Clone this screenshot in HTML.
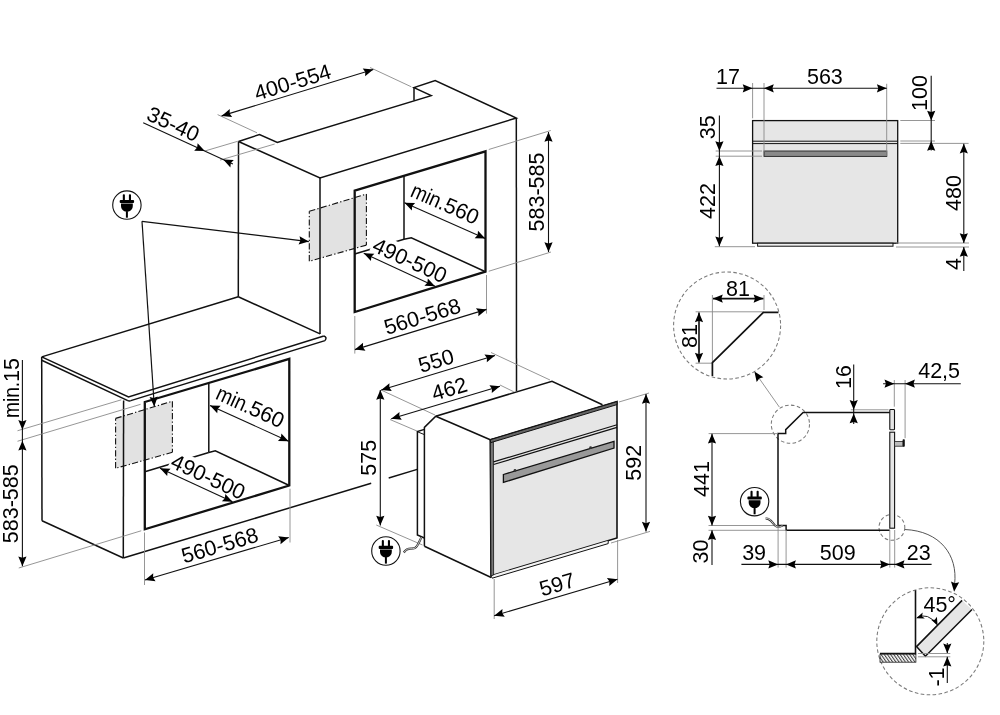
<!DOCTYPE html>
<html><head><meta charset="utf-8"><title>Oven installation drawing</title>
<style>html,body{margin:0;padding:0;background:#fff}svg{display:block;will-change:transform}text{font-family:"Liberation Sans",sans-serif}</style>
</head><body>
<svg width="1000" height="715" viewBox="0 0 1000 715">
<rect width="1000" height="715" fill="#fff"/>
<path d="M309.30,211.30 L366.40,194.10 L366.40,245.10 L309.30,261.30 Z" fill="#e2e2e2" stroke="none" stroke-width="0" stroke-linejoin="miter" />
<line x1="309.30" y1="211.30" x2="366.40" y2="194.10" stroke="#111" stroke-width="1.1" stroke-dasharray="6.2 2.2 1.3 2.2"/>
<line x1="366.40" y1="194.10" x2="366.40" y2="245.10" stroke="#111" stroke-width="1.1" stroke-dasharray="6.2 2.2 1.3 2.2"/>
<line x1="366.40" y1="245.10" x2="309.30" y2="261.30" stroke="#111" stroke-width="1.1" stroke-dasharray="6.2 2.2 1.3 2.2"/>
<line x1="309.30" y1="261.30" x2="309.30" y2="211.30" stroke="#111" stroke-width="1.1" stroke-dasharray="6.2 2.2 1.3 2.2"/>
<path d="M115.60,418.40 L172.40,401.20 L172.40,452.30 L115.60,468.30 Z" fill="#e2e2e2" stroke="none" stroke-width="0" stroke-linejoin="miter" />
<line x1="115.60" y1="418.40" x2="172.40" y2="401.20" stroke="#111" stroke-width="1.1" stroke-dasharray="6.2 2.2 1.3 2.2"/>
<line x1="172.40" y1="401.20" x2="172.40" y2="452.30" stroke="#111" stroke-width="1.1" stroke-dasharray="6.2 2.2 1.3 2.2"/>
<line x1="172.40" y1="452.30" x2="115.60" y2="468.30" stroke="#111" stroke-width="1.1" stroke-dasharray="6.2 2.2 1.3 2.2"/>
<line x1="115.60" y1="468.30" x2="115.60" y2="418.40" stroke="#111" stroke-width="1.1" stroke-dasharray="6.2 2.2 1.3 2.2"/>
<line x1="404.00" y1="175.40" x2="404.00" y2="239.30" stroke="#111" stroke-width="1.5" />
<line x1="404.00" y1="239.30" x2="354.70" y2="254.00" stroke="#111" stroke-width="1.5" />
<path d="M404.00,239.30 L411.30,237.80 L485.50,271.70" fill="none" stroke="#111" stroke-width="1.5" stroke-linejoin="miter" />
<line x1="208.80" y1="382.90" x2="208.80" y2="452.50" stroke="#111" stroke-width="1.5" />
<line x1="208.80" y1="452.50" x2="144.80" y2="471.80" stroke="#111" stroke-width="1.5" />
<path d="M208.80,452.50 L215.30,450.80 L289.30,485.50" fill="none" stroke="#111" stroke-width="1.5" stroke-linejoin="miter" />
<rect transform="translate(409.97,260.19) rotate(24.85)" x="-40.95" y="-11.52" width="81.91" height="19.55" fill="#fff"/>
<rect transform="translate(208.31,476.55) rotate(24.80)" x="-40.95" y="-11.52" width="81.91" height="19.55" fill="#fff"/>
<path d="M238.50,141.50 L259.50,134.50 L277.30,142.50 L431.20,95.60 L414.00,87.60 L435.20,80.60 L516.30,118.00 L320.00,178.00 L238.50,141.50" fill="none" stroke="#111" stroke-width="1.5" stroke-linejoin="miter" />
<line x1="414.00" y1="87.60" x2="414.00" y2="100.40" stroke="#111" stroke-width="1.5" />
<line x1="516.30" y1="118.00" x2="516.50" y2="391.00" stroke="#111" stroke-width="1.5" />
<line x1="320.00" y1="178.00" x2="320.00" y2="334.00" stroke="#111" stroke-width="1.5" />
<line x1="238.50" y1="141.50" x2="238.30" y2="296.80" stroke="#111" stroke-width="1.5" />
<line x1="238.30" y1="296.80" x2="320.10" y2="333.90" stroke="#111" stroke-width="1.5" />
<line x1="238.30" y1="296.80" x2="41.70" y2="356.90" stroke="#111" stroke-width="1.5" />
<path d="M354.70,190.60 L485.50,151.40 L485.50,271.70 L354.70,312.00 Z" fill="none" stroke="#111" stroke-width="2.3" stroke-linejoin="miter" />
<path d="M41.70,356.90 L128.50,397.00 L323.80,336.00" fill="none" stroke="#111" stroke-width="1.5" stroke-linejoin="miter" />
<path d="M323.8,336.0 Q327.5,337.2 325.0,340.6" fill="none" stroke="#111" stroke-width="1.5"/>
<path d="M41.70,360.30 L127.80,400.60" fill="none" stroke="#111" stroke-width="1.5" stroke-linejoin="miter" />
<path d="M127.8,400.6 Q129.3,401.3 130.8,400.6" fill="none" stroke="#111" stroke-width="1.5"/>
<path d="M130.80,400.60 L325.00,340.60" fill="none" stroke="#111" stroke-width="1.5" stroke-linejoin="miter" />
<line x1="41.70" y1="356.90" x2="42.00" y2="520.80" stroke="#111" stroke-width="1.5" />
<line x1="42.00" y1="520.80" x2="123.30" y2="558.00" stroke="#111" stroke-width="1.5" />
<line x1="123.60" y1="400.50" x2="123.30" y2="558.00" stroke="#111" stroke-width="1.5" />
<line x1="123.30" y1="558.00" x2="371.20" y2="483.30" stroke="#111" stroke-width="1.5" />
<line x1="388.70" y1="478.00" x2="417.20" y2="469.40" stroke="#111" stroke-width="1.5" />
<path d="M144.80,402.00 L289.30,358.90 L289.30,485.50 L144.80,529.30 Z" fill="none" stroke="#111" stroke-width="2.3" stroke-linejoin="miter" />
<line x1="142.00" y1="221.30" x2="308.80" y2="241.60" stroke="#111" stroke-width="1.2" />
<polygon points="308.80,241.60 298.58,244.48 300.46,240.58 299.57,236.34" fill="#000"/>
<line x1="142.00" y1="221.30" x2="154.30" y2="406.50" stroke="#111" stroke-width="1.2" />
<polygon points="154.30,406.50 149.56,396.99 153.74,398.12 157.74,396.45" fill="#000"/>
<line x1="217.60" y1="114.60" x2="257.00" y2="132.80" stroke="#8a8a8a" stroke-width="0.9" />
<line x1="370.00" y1="67.50" x2="411.30" y2="86.80" stroke="#8a8a8a" stroke-width="0.9" />
<line x1="221.60" y1="115.90" x2="373.30" y2="69.50" stroke="#111" stroke-width="1.1" />
<polygon points="373.30,69.50 365.13,76.29 365.27,71.96 362.73,68.45" fill="#000"/>
<polygon points="221.60,115.90 229.77,109.11 229.63,113.44 232.17,116.95" fill="#000"/>
<g transform="translate(292.62,82.02) rotate(-17.01)">
<text transform="translate(-39.45,7.52) scale(1.000,1)" font-size="21.5" fill="#000">400-554</text>
</g>
<line x1="204.80" y1="151.00" x2="237.70" y2="141.30" stroke="#8a8a8a" stroke-width="0.9" />
<line x1="220.00" y1="160.10" x2="274.70" y2="144.00" stroke="#8a8a8a" stroke-width="0.9" />
<line x1="143.20" y1="122.70" x2="232.90" y2="164.10" stroke="#111" stroke-width="1.1" />
<polygon points="204.80,151.00 194.18,150.63 197.17,147.49 197.61,143.18" fill="#000"/>
<polygon points="223.20,159.60 233.82,159.97 230.83,163.11 230.39,167.42" fill="#000"/>
<g transform="translate(173.40,123.90) rotate(24.70)">
<text transform="translate(-27.50,7.52) scale(1.000,1)" font-size="21.5" fill="#000">35-40</text>
</g>
<line x1="488.75" y1="149.50" x2="550.75" y2="130.50" stroke="#8a8a8a" stroke-width="0.9" />
<line x1="488.75" y1="271.25" x2="551.00" y2="252.00" stroke="#8a8a8a" stroke-width="0.9" />
<line x1="548.50" y1="252.00" x2="548.50" y2="132.00" stroke="#111" stroke-width="1.1" />
<polygon points="548.50,132.00 552.60,141.80 548.50,140.40 544.40,141.80" fill="#000"/>
<polygon points="548.50,252.00 544.40,242.20 548.50,243.60 552.60,242.20" fill="#000"/>
<g transform="translate(536.27,192.00) rotate(-90.00)">
<text transform="translate(-39.45,7.52) scale(1.000,1)" font-size="21.5" fill="#000">583-585</text>
</g>
<line x1="404.50" y1="202.80" x2="485.30" y2="238.50" stroke="#111" stroke-width="1.1" />
<polygon points="485.30,238.50 474.68,238.29 477.62,235.11 477.99,230.79" fill="#000"/>
<polygon points="404.50,202.80 415.12,203.01 412.18,206.19 411.81,210.51" fill="#000"/>
<g transform="translate(445.13,203.56) rotate(23.84)">
<text transform="translate(-36.01,7.52) scale(0.890,1)" font-size="21.5" fill="#000">min.</text>
<text transform="translate(0.14,7.52) scale(1.000,1)" font-size="21.5" fill="#000">560</text>
</g>
<line x1="363.75" y1="253.25" x2="435.00" y2="286.25" stroke="#111" stroke-width="1.1" />
<polygon points="435.00,286.25 424.38,285.85 427.38,282.72 427.83,278.41" fill="#000"/>
<polygon points="363.75,253.25 374.37,253.65 371.37,256.78 370.92,261.09" fill="#000"/>
<g transform="translate(409.97,260.19) rotate(24.85)">
<text transform="translate(-39.45,7.52) scale(1.000,1)" font-size="21.5" fill="#000">490-500</text>
</g>
<line x1="354.80" y1="316.00" x2="354.80" y2="353.60" stroke="#8a8a8a" stroke-width="0.9" />
<line x1="486.50" y1="275.00" x2="486.50" y2="313.60" stroke="#8a8a8a" stroke-width="0.9" />
<line x1="354.90" y1="349.60" x2="486.50" y2="309.40" stroke="#111" stroke-width="1.1" />
<polygon points="486.50,309.40 478.33,316.18 478.47,311.85 475.93,308.34" fill="#000"/>
<polygon points="354.90,349.60 363.07,342.82 362.93,347.15 365.47,350.66" fill="#000"/>
<g transform="translate(422.20,316.26) rotate(-16.99)">
<text transform="translate(-39.45,7.52) scale(1.000,1)" font-size="21.5" fill="#000">560-568</text>
</g>
<line x1="17.50" y1="430.75" x2="121.30" y2="399.80" stroke="#8a8a8a" stroke-width="0.9" />
<line x1="17.50" y1="441.25" x2="140.60" y2="404.30" stroke="#8a8a8a" stroke-width="0.9" />
<line x1="18.75" y1="568.00" x2="141.25" y2="530.75" stroke="#8a8a8a" stroke-width="0.9" />
<line x1="22.40" y1="360.00" x2="22.40" y2="566.25" stroke="#111" stroke-width="1.1" />
<polygon points="22.40,429.80 18.30,420.00 22.40,421.40 26.50,420.00" fill="#000"/>
<polygon points="22.40,440.80 26.50,450.60 22.40,449.20 18.30,450.60" fill="#000"/>
<polygon points="22.40,566.25 18.30,556.45 22.40,557.85 26.50,556.45" fill="#000"/>
<g transform="translate(11.00,388.00) rotate(-90.00)">
<text transform="translate(-30.03,7.52) scale(0.890,1)" font-size="21.5" fill="#000">min.</text>
<text transform="translate(6.12,7.52) scale(1.000,1)" font-size="21.5" fill="#000">15</text>
</g>
<g transform="translate(10.50,503.75) rotate(-90.00)">
<text transform="translate(-39.45,7.52) scale(1.000,1)" font-size="21.5" fill="#000">583-585</text>
</g>
<line x1="210.00" y1="405.50" x2="288.60" y2="441.20" stroke="#111" stroke-width="1.1" />
<polygon points="288.60,441.20 277.98,440.88 280.95,437.73 281.37,433.41" fill="#000"/>
<polygon points="210.00,405.50 220.62,405.82 217.65,408.97 217.23,413.29" fill="#000"/>
<g transform="translate(250.43,406.59) rotate(24.43)">
<text transform="translate(-36.01,7.52) scale(0.890,1)" font-size="21.5" fill="#000">min.</text>
<text transform="translate(0.14,7.52) scale(1.000,1)" font-size="21.5" fill="#000">560</text>
</g>
<line x1="160.00" y1="468.25" x2="232.50" y2="501.75" stroke="#111" stroke-width="1.1" />
<polygon points="232.50,501.75 221.88,501.36 224.87,498.23 225.32,493.92" fill="#000"/>
<polygon points="160.00,468.25 170.62,468.64 167.63,471.77 167.18,476.08" fill="#000"/>
<g transform="translate(208.31,476.55) rotate(24.80)">
<text transform="translate(-39.45,7.52) scale(1.000,1)" font-size="21.5" fill="#000">490-500</text>
</g>
<line x1="144.50" y1="532.50" x2="144.50" y2="585.00" stroke="#8a8a8a" stroke-width="0.9" />
<line x1="290.00" y1="488.75" x2="290.00" y2="542.50" stroke="#8a8a8a" stroke-width="0.9" />
<line x1="145.00" y1="580.00" x2="288.75" y2="537.50" stroke="#111" stroke-width="1.1" />
<polygon points="288.75,537.50 280.51,544.21 280.69,539.88 278.19,536.35" fill="#000"/>
<polygon points="145.00,580.00 153.24,573.29 153.06,577.62 155.56,581.15" fill="#000"/>
<g transform="translate(219.64,545.18) rotate(-16.47)">
<text transform="translate(-39.45,7.52) scale(1.000,1)" font-size="21.5" fill="#000">560-568</text>
</g>
<line x1="381.00" y1="390.00" x2="435.00" y2="415.00" stroke="#8a8a8a" stroke-width="0.9" />
<line x1="491.00" y1="352.50" x2="550.00" y2="380.00" stroke="#8a8a8a" stroke-width="0.9" />
<line x1="381.25" y1="390.00" x2="495.00" y2="355.50" stroke="#111" stroke-width="1.1" />
<polygon points="495.00,355.50 486.81,362.27 486.96,357.94 484.43,354.42" fill="#000"/>
<polygon points="381.25,390.00 389.44,383.23 389.29,387.56 391.82,391.08" fill="#000"/>
<g transform="translate(436.01,360.62) rotate(-16.87)">
<text transform="translate(-17.94,7.52) scale(1.000,1)" font-size="21.5" fill="#000">550</text>
</g>
<line x1="390.00" y1="419.50" x2="417.50" y2="431.25" stroke="#8a8a8a" stroke-width="0.9" />
<line x1="500.00" y1="385.00" x2="513.75" y2="391.75" stroke="#8a8a8a" stroke-width="0.9" />
<line x1="391.25" y1="418.75" x2="500.00" y2="386.25" stroke="#111" stroke-width="1.1" />
<polygon points="500.00,386.25 491.78,392.98 491.95,388.66 489.44,385.13" fill="#000"/>
<polygon points="391.25,418.75 399.47,412.02 399.30,416.34 401.81,419.87" fill="#000"/>
<g transform="translate(449.31,388.64) rotate(-16.64)">
<text transform="translate(-17.94,7.52) scale(1.000,1)" font-size="21.5" fill="#000">462</text>
</g>
<line x1="376.25" y1="525.00" x2="422.50" y2="545.00" stroke="#8a8a8a" stroke-width="0.9" />
<line x1="380.30" y1="525.50" x2="380.30" y2="390.00" stroke="#111" stroke-width="1.1" />
<polygon points="380.30,390.00 384.40,399.80 380.30,398.40 376.20,399.80" fill="#000"/>
<polygon points="380.30,525.50 376.20,515.70 380.30,517.10 384.40,515.70" fill="#000"/>
<g transform="translate(368.07,457.75) rotate(-90.00)">
<text transform="translate(-17.94,7.52) scale(1.000,1)" font-size="21.5" fill="#000">575</text>
</g>
<line x1="494.20" y1="579.00" x2="494.20" y2="619.00" stroke="#8a8a8a" stroke-width="0.9" />
<line x1="617.60" y1="540.00" x2="617.60" y2="583.00" stroke="#8a8a8a" stroke-width="0.9" />
<line x1="494.20" y1="615.70" x2="617.50" y2="579.20" stroke="#111" stroke-width="1.1" />
<polygon points="617.50,579.20 609.27,585.91 609.45,581.58 606.94,578.05" fill="#000"/>
<polygon points="494.20,615.70 502.43,608.99 502.25,613.32 504.76,616.85" fill="#000"/>
<g transform="translate(557.17,584.31) rotate(-16.49)">
<text transform="translate(-17.94,7.52) scale(1.000,1)" font-size="21.5" fill="#000">597</text>
</g>
<line x1="619.00" y1="402.00" x2="649.00" y2="393.00" stroke="#8a8a8a" stroke-width="0.9" />
<line x1="611.00" y1="543.00" x2="650.00" y2="531.40" stroke="#8a8a8a" stroke-width="0.9" />
<line x1="646.00" y1="531.60" x2="646.00" y2="394.00" stroke="#111" stroke-width="1.1" />
<polygon points="646.00,394.00 650.10,403.80 646.00,402.40 641.90,403.80" fill="#000"/>
<polygon points="646.00,531.60 641.90,521.80 646.00,523.20 650.10,521.80" fill="#000"/>
<g transform="translate(633.77,462.80) rotate(-90.00)">
<text transform="translate(-17.94,7.52) scale(1.000,1)" font-size="21.5" fill="#000">592</text>
</g>
<path d="M424.40,546.25 L424.40,427.40 L435.80,416.20 L552.00,381.25 L602.50,404.70" fill="none" stroke="#111" stroke-width="1.5" stroke-linejoin="miter" />
<line x1="435.80" y1="416.20" x2="490.30" y2="439.70" stroke="#111" stroke-width="1.5" />
<line x1="424.40" y1="546.25" x2="491.20" y2="577.50" stroke="#111" stroke-width="1.5" />
<path d="M424.40,429.40 L417.40,431.60 L417.40,535.00 L424.40,538.00" fill="none" stroke="#111" stroke-width="1.5" stroke-linejoin="miter" />
<line x1="418.00" y1="432.00" x2="424.40" y2="434.60" stroke="#111" stroke-width="1.0" />
<path d="M403.8,552.5 C409,545 413,552 417,546 C419,543 420,540 421.3,537.5" fill="none" stroke="#333" stroke-width="2.2"/>
<path d="M403.8,552.5 C409,545 413,552 417,546 C419,543 420,540 421.3,537.5" fill="none" stroke="#eee" stroke-width="0.8"/>
<path d="M490.30,439.70 L617.00,401.60 L617.00,538.00 L491.00,575.80 Z" fill="#e6e6e6" stroke="#111" stroke-width="1.6" stroke-linejoin="miter" />
<path d="M491.00,575.80 L492.20,578.20 L608.20,543.60 L608.20,540.70" fill="#f4f4f4" stroke="#111" stroke-width="1.0" stroke-linejoin="miter" />
<path d="M490.30,439.70 L493.40,438.80 L493.60,575.00 L491.00,575.80 Z" fill="#777" stroke="#111" stroke-width="0.8" stroke-linejoin="miter" />
<path d="M490.30,439.70 L617.00,401.60 L617.00,404.60 L490.60,442.70 Z" fill="#666" stroke="#111" stroke-width="1.0" stroke-linejoin="miter" />
<line x1="493.50" y1="461.90" x2="617.00" y2="424.80" stroke="#111" stroke-width="1.2" />
<line x1="493.50" y1="464.50" x2="617.00" y2="427.40" stroke="#111" stroke-width="1.2" />
<path d="M503.40,474.50 L614.00,441.40 L614.00,448.00 L503.40,482.40 Z" fill="#999" stroke="#111" stroke-width="1.3" stroke-linejoin="miter" />
<circle cx="515" cy="470.4" r="1.4" fill="#333"/><circle cx="590.6" cy="447.7" r="1.4" fill="#333"/>
<g transform="translate(126.9,205.1)"><circle r="14.2" fill="#fff" stroke="#111" stroke-width="1.1"/><rect x="-4.1" y="-10.9" width="2.1" height="6.5" rx="0.9" fill="#000"/><rect x="2.0" y="-10.9" width="2.1" height="6.5" rx="0.9" fill="#000"/><rect x="-7.2" y="-5.2" width="14.4" height="3.1" rx="1" fill="#000"/><path d="M-5.9,-1.5 H5.9 V0.8 Q5.9,4.6 2.0,6.3 H-2.0 Q-5.9,4.6 -5.9,0.8 Z" fill="#000"/><rect x="-1.0" y="6" width="2.0" height="6.6" fill="#000"/></g>
<g transform="translate(385.9,551)"><circle r="14.2" fill="#fff" stroke="#111" stroke-width="1.1"/><rect x="-4.1" y="-10.9" width="2.1" height="6.5" rx="0.9" fill="#000"/><rect x="2.0" y="-10.9" width="2.1" height="6.5" rx="0.9" fill="#000"/><rect x="-7.2" y="-5.2" width="14.4" height="3.1" rx="1" fill="#000"/><path d="M-5.9,-1.5 H5.9 V0.8 Q5.9,4.6 2.0,6.3 H-2.0 Q-5.9,4.6 -5.9,0.8 Z" fill="#000"/><rect x="-1.0" y="6" width="2.0" height="6.6" fill="#000"/></g>
<g transform="translate(754.6,501.7)"><circle r="14.2" fill="#fff" stroke="#111" stroke-width="1.1"/><rect x="-4.1" y="-10.9" width="2.1" height="6.5" rx="0.9" fill="#000"/><rect x="2.0" y="-10.9" width="2.1" height="6.5" rx="0.9" fill="#000"/><rect x="-7.2" y="-5.2" width="14.4" height="3.1" rx="1" fill="#000"/><path d="M-5.9,-1.5 H5.9 V0.8 Q5.9,4.6 2.0,6.3 H-2.0 Q-5.9,4.6 -5.9,0.8 Z" fill="#000"/><rect x="-1.0" y="6" width="2.0" height="6.6" fill="#000"/></g>
<rect x="752.6" y="120.6" width="145.1" height="122.6" fill="#e6e6e6" stroke="#111" stroke-width="1.3"/>
<line x1="752.60" y1="141.20" x2="897.70" y2="141.20" stroke="#111" stroke-width="1.0" />
<line x1="752.60" y1="143.60" x2="897.70" y2="143.60" stroke="#111" stroke-width="1.0" />
<rect x="764" y="151" width="122.8" height="5.4" fill="#8a8a8a" stroke="#222" stroke-width="0.9"/>
<rect x="757.6" y="243.2" width="135.4" height="3" fill="#f0f0f0" stroke="#111" stroke-width="1"/>
<line x1="752.60" y1="83.00" x2="752.60" y2="118.30" stroke="#8a8a8a" stroke-width="0.9" />
<line x1="764.00" y1="83.00" x2="764.00" y2="152.00" stroke="#8a8a8a" stroke-width="0.9" />
<line x1="886.70" y1="83.80" x2="886.70" y2="156.00" stroke="#8a8a8a" stroke-width="0.9" />
<line x1="716.50" y1="88.30" x2="886.70" y2="88.30" stroke="#111" stroke-width="1.1" />
<polygon points="752.50,88.30 742.70,92.40 744.10,88.30 742.70,84.20" fill="#000"/>
<polygon points="764.00,88.30 773.80,84.20 772.40,88.30 773.80,92.40" fill="#000"/>
<polygon points="886.70,88.30 876.90,92.40 878.30,88.30 876.90,84.20" fill="#000"/>
<g transform="translate(728.00,76.27) rotate(0.00)">
<text transform="translate(-11.96,7.52) scale(1.000,1)" font-size="21.5" fill="#000">17</text>
</g>
<g transform="translate(824.90,76.27) rotate(0.00)">
<text transform="translate(-17.94,7.52) scale(1.000,1)" font-size="21.5" fill="#000">563</text>
</g>
<line x1="900.30" y1="120.50" x2="935.00" y2="120.50" stroke="#8a8a8a" stroke-width="0.9" />
<line x1="900.30" y1="141.00" x2="935.00" y2="141.00" stroke="#8a8a8a" stroke-width="0.9" />
<line x1="900.30" y1="143.40" x2="968.60" y2="143.40" stroke="#8a8a8a" stroke-width="0.9" />
<line x1="931.20" y1="75.70" x2="931.20" y2="150.50" stroke="#111" stroke-width="1.1" />
<polygon points="931.20,120.50 927.10,110.70 931.20,112.10 935.30,110.70" fill="#000"/>
<polygon points="931.20,141.00 935.30,150.80 931.20,149.40 927.10,150.80" fill="#000"/>
<g transform="translate(919.20,93.00) rotate(-90.00)">
<text transform="translate(-17.94,7.52) scale(1.000,1)" font-size="21.5" fill="#000">100</text>
</g>
<line x1="896.00" y1="243.00" x2="969.00" y2="243.00" stroke="#8a8a8a" stroke-width="0.9" />
<line x1="896.00" y1="247.00" x2="969.00" y2="247.00" stroke="#8a8a8a" stroke-width="0.9" />
<line x1="963.80" y1="243.00" x2="963.80" y2="143.70" stroke="#111" stroke-width="1.1" />
<polygon points="963.80,143.70 967.90,153.50 963.80,152.10 959.70,153.50" fill="#000"/>
<polygon points="963.80,243.00 959.70,233.20 963.80,234.60 967.90,233.20" fill="#000"/>
<g transform="translate(953.00,193.00) rotate(-90.00)">
<text transform="translate(-17.94,7.52) scale(1.000,1)" font-size="21.5" fill="#000">480</text>
</g>
<line x1="963.80" y1="247.00" x2="963.80" y2="271.00" stroke="#111" stroke-width="1.1" />
<polygon points="963.80,247.00 967.90,256.80 963.80,255.40 959.70,256.80" fill="#000"/>
<g transform="translate(953.50,264.00) rotate(-90.00)">
<text transform="translate(-5.98,7.52) scale(1.000,1)" font-size="21.5" fill="#000">4</text>
</g>
<line x1="715.70" y1="151.00" x2="762.00" y2="151.00" stroke="#8a8a8a" stroke-width="0.9" />
<line x1="715.70" y1="156.20" x2="762.00" y2="156.20" stroke="#8a8a8a" stroke-width="0.9" />
<line x1="714.80" y1="246.70" x2="755.00" y2="246.70" stroke="#8a8a8a" stroke-width="0.9" />
<line x1="719.40" y1="115.60" x2="719.40" y2="246.20" stroke="#111" stroke-width="1.1" />
<polygon points="719.40,151.00 715.30,141.20 719.40,142.60 723.50,141.20" fill="#000"/>
<polygon points="719.40,156.30 723.50,166.10 719.40,164.70 715.30,166.10" fill="#000"/>
<polygon points="719.40,246.20 715.30,236.40 719.40,237.80 723.50,236.40" fill="#000"/>
<g transform="translate(707.70,127.20) rotate(-90.00)">
<text transform="translate(-11.96,7.52) scale(1.000,1)" font-size="21.5" fill="#000">35</text>
</g>
<g transform="translate(707.70,201.00) rotate(-90.00)">
<text transform="translate(-17.94,7.52) scale(1.000,1)" font-size="21.5" fill="#000">422</text>
</g>
<circle cx="727.1" cy="325.5" r="53.5" fill="none" stroke="#7a7a7a" stroke-width="1.05" stroke-dasharray="3.6 2.4"/>
<line x1="712.40" y1="295.00" x2="712.40" y2="362.60" stroke="#8a8a8a" stroke-width="0.9" />
<line x1="695.60" y1="311.80" x2="763.40" y2="311.80" stroke="#8a8a8a" stroke-width="0.9" />
<line x1="695.60" y1="363.20" x2="712.40" y2="363.20" stroke="#8a8a8a" stroke-width="0.9" />
<line x1="764.00" y1="295.00" x2="764.00" y2="310.00" stroke="#8a8a8a" stroke-width="0.9" />
<path d="M712.40,376.00 L712.40,362.60 L763.40,312.40 L778.40,312.40" fill="none" stroke="#111" stroke-width="1.7" stroke-linejoin="miter" />
<line x1="713.00" y1="298.60" x2="763.40" y2="298.60" stroke="#111" stroke-width="1.6" />
<polygon points="763.40,298.60 753.60,302.70 755.00,298.60 753.60,294.50" fill="#000"/>
<polygon points="713.00,298.60 722.80,294.50 721.40,298.60 722.80,302.70" fill="#000"/>
<g transform="translate(738.00,288.60) rotate(0.00)">
<text transform="translate(-11.96,7.52) scale(1.000,1)" font-size="21.5" fill="#000">81</text>
</g>
<line x1="699.00" y1="362.60" x2="699.00" y2="312.40" stroke="#111" stroke-width="1.6" />
<polygon points="699.00,312.40 703.10,322.20 699.00,320.80 694.90,322.20" fill="#000"/>
<polygon points="699.00,362.60 694.90,352.80 699.00,354.20 703.10,352.80" fill="#000"/>
<g transform="translate(689.40,336.00) rotate(-90.00)">
<text transform="translate(-11.96,7.52) scale(1.000,1)" font-size="21.5" fill="#000">81</text>
</g>
<line x1="779.30" y1="407.00" x2="757.50" y2="376.00" stroke="#8a8a8a" stroke-width="0.9" />
<polygon points="754.40,371.60 763.39,377.26 759.23,378.47 756.68,381.97" fill="#000"/>
<circle cx="790.4" cy="424.2" r="19.1" fill="none" stroke="#7a7a7a" stroke-width="1.05" stroke-dasharray="3.6 2.4"/>
<circle cx="891.9" cy="527.4" r="12.9" fill="none" stroke="#7a7a7a" stroke-width="1.05" stroke-dasharray="3.6 2.4"/>
<path d="M889.90,412.40 L803.10,412.40 L785.70,429.60 L785.70,433.60 L778.00,433.60 L778.00,525.50 L786.10,525.50 L786.10,530.30 L889.80,530.30" fill="none" stroke="#111" stroke-width="1.5" stroke-linejoin="miter" />
<rect x="889.8" y="409.5" width="4.7" height="20.2" rx="0.8" fill="#e6e6e6" stroke="#111" stroke-width="1.1"/>
<rect x="889.8" y="432.2" width="4.8" height="96" fill="#e6e6e6" stroke="#111" stroke-width="1.1"/>
<rect x="894.6" y="441.4" width="8.6" height="4.8" fill="#bbb" stroke="#222" stroke-width="0.8"/>
<rect x="902.6" y="439.2" width="2.2" height="7.6" rx="0.8" fill="#111"/>
<line x1="850.80" y1="409.80" x2="888.60" y2="409.80" stroke="#8a8a8a" stroke-width="0.9" />
<line x1="853.70" y1="364.50" x2="853.70" y2="424.00" stroke="#111" stroke-width="1.1" />
<polygon points="853.70,409.80 849.60,400.00 853.70,401.40 857.80,400.00" fill="#000"/>
<polygon points="853.70,413.50 857.80,423.30 853.70,421.90 849.60,423.30" fill="#000"/>
<g transform="translate(843.00,377.00) rotate(-90.00)">
<text transform="translate(-11.96,7.52) scale(1.000,1)" font-size="21.5" fill="#000">16</text>
</g>
<line x1="894.30" y1="380.00" x2="894.30" y2="406.70" stroke="#8a8a8a" stroke-width="0.9" />
<line x1="905.10" y1="380.00" x2="905.10" y2="438.20" stroke="#8a8a8a" stroke-width="0.9" />
<line x1="883.10" y1="383.70" x2="960.80" y2="383.70" stroke="#111" stroke-width="1.1" />
<polygon points="894.30,383.70 884.50,387.80 885.90,383.70 884.50,379.60" fill="#000"/>
<polygon points="905.10,383.70 914.90,379.60 913.50,383.70 914.90,387.80" fill="#000"/>
<g transform="translate(939.10,370.48) rotate(0.00)">
<text transform="translate(-20.92,7.52) scale(1.000,1)" font-size="21.5" fill="#000">42,5</text>
</g>
<line x1="708.60" y1="433.60" x2="778.00" y2="433.60" stroke="#8a8a8a" stroke-width="0.9" />
<line x1="708.50" y1="525.50" x2="778.00" y2="525.50" stroke="#8a8a8a" stroke-width="0.9" />
<line x1="708.50" y1="530.30" x2="786.00" y2="530.30" stroke="#8a8a8a" stroke-width="0.9" />
<line x1="712.00" y1="525.50" x2="712.00" y2="433.80" stroke="#111" stroke-width="1.1" />
<polygon points="712.00,433.80 716.10,443.60 712.00,442.20 707.90,443.60" fill="#000"/>
<polygon points="712.00,525.50 707.90,515.70 712.00,517.10 716.10,515.70" fill="#000"/>
<g transform="translate(701.80,479.00) rotate(-90.00)">
<text transform="translate(-17.94,7.52) scale(1.000,1)" font-size="21.5" fill="#000">441</text>
</g>
<line x1="712.00" y1="530.30" x2="712.00" y2="565.00" stroke="#111" stroke-width="1.1" />
<polygon points="712.00,530.30 716.10,540.10 712.00,538.70 707.90,540.10" fill="#000"/>
<g transform="translate(700.50,551.50) rotate(-90.00)">
<text transform="translate(-11.96,7.52) scale(1.000,1)" font-size="21.5" fill="#000">30</text>
</g>
<line x1="778.10" y1="525.50" x2="778.10" y2="567.60" stroke="#8a8a8a" stroke-width="0.9" />
<line x1="786.10" y1="530.00" x2="786.10" y2="567.60" stroke="#8a8a8a" stroke-width="0.9" />
<line x1="889.80" y1="530.00" x2="889.80" y2="567.60" stroke="#8a8a8a" stroke-width="0.9" />
<line x1="894.70" y1="530.00" x2="894.70" y2="567.60" stroke="#8a8a8a" stroke-width="0.9" />
<line x1="741.40" y1="564.40" x2="931.60" y2="564.40" stroke="#111" stroke-width="1.1" />
<polygon points="778.10,564.40 768.30,568.50 769.70,564.40 768.30,560.30" fill="#000"/>
<polygon points="786.10,564.40 795.90,560.30 794.50,564.40 795.90,568.50" fill="#000"/>
<polygon points="889.80,564.40 880.00,568.50 881.40,564.40 880.00,560.30" fill="#000"/>
<polygon points="894.70,564.40 904.50,560.30 903.10,564.40 904.50,568.50" fill="#000"/>
<g transform="translate(754.10,552.18) rotate(0.00)">
<text transform="translate(-11.96,7.52) scale(1.000,1)" font-size="21.5" fill="#000">39</text>
</g>
<g transform="translate(837.70,552.18) rotate(0.00)">
<text transform="translate(-17.94,7.52) scale(1.000,1)" font-size="21.5" fill="#000">509</text>
</g>
<g transform="translate(918.75,552.27) rotate(0.00)">
<text transform="translate(-11.96,7.52) scale(1.000,1)" font-size="21.5" fill="#000">23</text>
</g>
<path d="M765.6,518.6 C771,518 772,523 775,525.5 C778,528 780,527 782.4,525.6" fill="none" stroke="#333" stroke-width="2.2"/>
<path d="M765.6,518.6 C771,518 772,523 775,525.5 C778,528 780,527 782.4,525.6" fill="none" stroke="#eee" stroke-width="0.8"/>
<path d="M904.8,529.5 C940,531 958,555 954.6,584" fill="none" stroke="#555" stroke-width="1"/>
<polygon points="954.10,591.70 951.00,581.54 954.94,583.34 959.15,582.36" fill="#000"/>
<circle cx="930.3" cy="641.3" r="53.5" fill="none" stroke="#7a7a7a" stroke-width="1.05" stroke-dasharray="3.6 2.4"/>
<defs><pattern id="h" width="2.6" height="2.6" patternUnits="userSpaceOnUse" patternTransform="rotate(-35)"><rect width="2.6" height="2.6" fill="#fff"/><rect width="1.1" height="2.6" fill="#444"/></pattern></defs>
<rect x="880" y="654.1" width="35.9" height="8.1" fill="url(#h)" stroke="#222" stroke-width="0.8"/>
<path d="M915.50,590.30 L915.50,653.50 L880.00,653.50" fill="none" stroke="#111" stroke-width="1.6" stroke-linejoin="miter" />
<path d="M916.50,646.60 L962.10,600.40 L972.00,609.50 L925.40,656.20 Z" fill="#e6e6e6" stroke="none" stroke-width="0" stroke-linejoin="miter" />
<path d="M962.10,600.40 L916.50,646.60 L925.40,656.20 L972.00,609.50" fill="none" stroke="#111" stroke-width="1.5" stroke-linejoin="miter" />
<g transform="translate(939.70,604.68) rotate(0.00)">
<text transform="translate(-16.26,7.52) scale(1.000,1)" font-size="21.5" fill="#000">45°</text>
</g>
<path d="M916.9,617.6 Q928,612 937.2,624.7" fill="none" stroke="#222" stroke-width="1"/>
<polygon points="916.20,618.20 922.69,612.54 922.05,616.15 924.81,618.58" fill="#000"/>
<polygon points="937.60,625.40 931.16,619.68 934.83,619.85 936.88,616.81" fill="#000"/>
<line x1="917.90" y1="653.50" x2="950.30" y2="653.50" stroke="#8a8a8a" stroke-width="0.9" />
<line x1="917.90" y1="656.80" x2="950.30" y2="656.80" stroke="#8a8a8a" stroke-width="0.9" />
<line x1="947.30" y1="643.00" x2="947.30" y2="653.00" stroke="#111" stroke-width="1.1" />
<polygon points="947.30,653.30 943.20,643.50 947.30,644.90 951.40,643.50" fill="#000"/>
<line x1="947.30" y1="656.80" x2="947.30" y2="683.10" stroke="#111" stroke-width="1.1" />
<polygon points="947.30,656.80 951.40,666.60 947.30,665.20 943.20,666.60" fill="#000"/>
<g transform="translate(936.20,677.00) rotate(-90.00)">
<text transform="translate(-9.56,7.52) scale(1.000,1)" font-size="21.5" fill="#000">-1</text>
</g>
</svg>
</body></html>
